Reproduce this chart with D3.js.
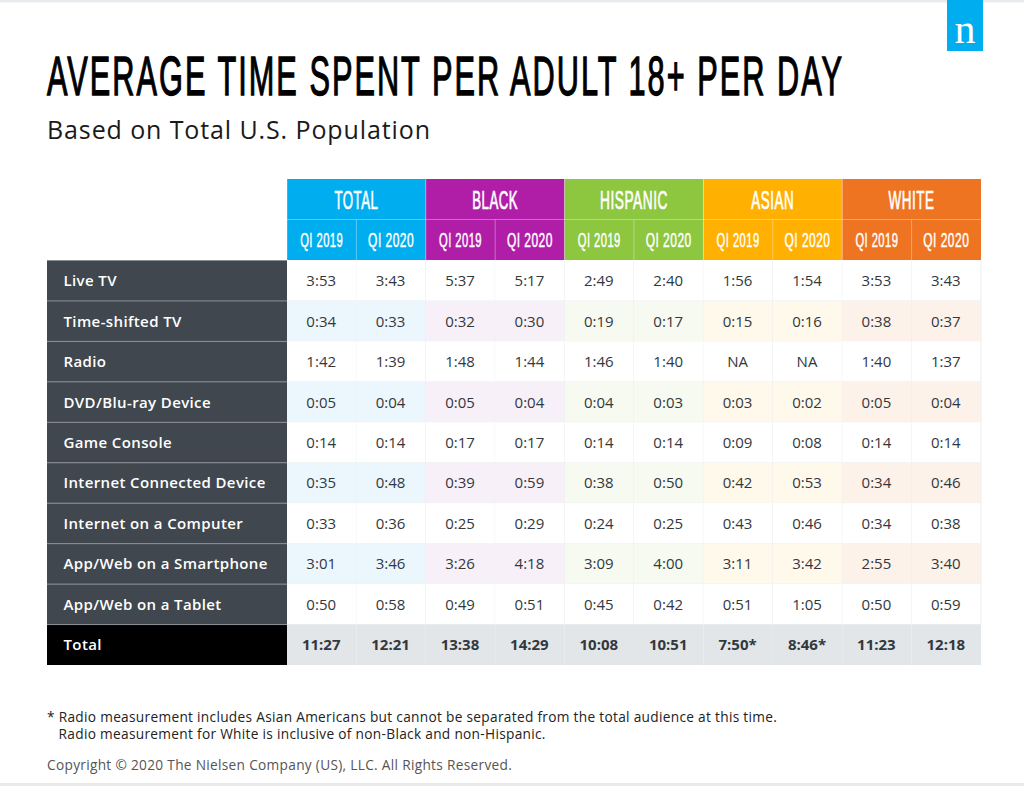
<!DOCTYPE html>
<html>
<head>
<meta charset="utf-8">
<script src="https://cdn.jsdelivr.net/npm/d3@7"></script>
<style>
  html, body { margin: 0; padding: 0; background: #fff; }
  svg { display: block; }
  text { font-family: "Open Sans", sans-serif; }
  .cond { font-family: "Liberation Sans Narrow", "Liberation Sans", sans-serif; }
</style>
</head>
<body>
<svg width="1024" height="786"></svg>
<script>
const groups = ['TOTAL', 'BLACK', 'HISPANIC', 'ASIAN', 'WHITE'];
const quarters = ['Q1 2019', 'Q1 2020'];
const categories = ['Live TV', 'Time-shifted TV', 'Radio', 'DVD/Blu-ray Device', 'Game Console',
  'Internet Connected Device', 'Internet on a Computer', 'App/Web on a Smartphone', 'App/Web on a Tablet', 'Total'];

const totalValues = [['3:53','3:43'],['0:34','0:33'],['1:42','1:39'],['0:05','0:04'],['0:14','0:14'],['0:35','0:48'],['0:33','0:36'],['3:01','3:46'],['0:50','0:58'],['11:27','12:21']];
const blackValues = [['5:37','5:17'],['0:32','0:30'],['1:48','1:44'],['0:05','0:04'],['0:17','0:17'],['0:39','0:59'],['0:25','0:29'],['3:26','4:18'],['0:49','0:51'],['13:38','14:29']];
const hispanicValues = [['2:49','2:40'],['0:19','0:17'],['1:46','1:40'],['0:04','0:03'],['0:14','0:14'],['0:38','0:50'],['0:24','0:25'],['3:09','4:00'],['0:45','0:42'],['10:08','10:51']];
const asianValues = [['1:56','1:54'],['0:15','0:16'],['NA','NA'],['0:03','0:02'],['0:09','0:08'],['0:42','0:53'],['0:43','0:46'],['3:11','3:42'],['0:51','1:05'],['7:50*','8:46*']];
const whiteValues = [['3:53','3:43'],['0:38','0:37'],['1:40','1:37'],['0:05','0:04'],['0:14','0:14'],['0:34','0:46'],['0:34','0:38'],['2:55','3:40'],['0:50','0:59'],['11:23','12:18']];
const allValues = [totalValues, blackValues, hispanicValues, asianValues, whiteValues];

const groupColors = ['#00aeef', '#b01ea8', '#8dc63f', '#ffb000', '#ef7421'];
const groupTints = ['#ecf7fd', '#f8f0f9', '#f6faf0', '#fff9ec', '#fdf2ea'];
const headerWidths = {TOTAL: 44, BLACK: 46, HISPANIC: 68, ASIAN: 43, WHITE: 46};

const footnotes = ['* Radio measurement includes Asian Americans but cannot be separated from the total audience at this time.',
  '   Radio measurement for White is inclusive of non-Black and non-Hispanic.'];

const svg = d3.select('svg');

// squeeze a condensed text to a wanted width, the letter spacing stays in
const fitText = (sel, x, y, width, anchor) => {
  sel.each(function(d) {
    const w = typeof width === 'function' ? width(d) : width;
    const px = typeof x === 'function' ? x(d) : x;
    const sx = w / this.getComputedTextLength();
    d3.select(this).attr('text-anchor', anchor)
      .attr('transform', `translate(${px},${y}) scale(${sx},1)`);
  });
};

// page strips top and bottom
svg.append('rect').attr('x', 0).attr('y', 0).attr('width', 1024).attr('height', 2.5).attr('fill', '#e8ebee');
svg.append('rect').attr('x', 0).attr('y', 783).attr('width', 1024).attr('height', 3).attr('fill', '#e8ebee');

// logo
svg.append('rect').attr('x', 947).attr('y', 0).attr('width', 36).attr('height', 51).attr('fill', '#00aeef');
svg.append('text').attr('x', 965).attr('y', 43).attr('text-anchor', 'middle')
  .style('font-family', '"Liberation Serif", serif').style('font-size', '42px').attr('fill', '#fff').text('n');

// title
svg.append('text').attr('class', 'cond')
  .style('font-size', '55px').style('letter-spacing', '3.6px').attr('fill', '#000')
  .attr('stroke', '#000').attr('stroke-width', 1.3)
  .text('AVERAGE TIME SPENT PER ADULT 18+ PER DAY')
  .call(fitText, 47, 95, 797, 'start');
svg.append('text').attr('x', 47).attr('y', 139).attr('textLength', 383).attr('lengthAdjust', 'spacing')
  .style('font-size', '25px').attr('fill', '#1a1a1a').text('Based on Total U.S. Population');

// scales
const x0 = d3.scaleBand().domain(groups).range([287, 981]);
const x1 = d3.scaleBand().domain(quarters).range([0, x0.bandwidth()]);
const y = d3.scaleBand().domain(categories).range([260.5, 665]);

// group headers
const gHead = svg.append('g').selectAll('g').data(groups).join('g')
  .attr('transform', d => `translate(${x0(d)},0)`);
gHead.append('rect').attr('y', 179).attr('width', x0.bandwidth()).attr('height', 81)
  .attr('fill', (d, i) => groupColors[i]);
gHead.append('line').attr('x1', 0).attr('x2', x0.bandwidth()).attr('y1', 219.5).attr('y2', 219.5)
  .attr('stroke', '#fff').attr('stroke-opacity', 0.35);
gHead.append('line').attr('x1', x1(quarters[1])).attr('x2', x1(quarters[1])).attr('y1', 219.5).attr('y2', 260)
  .attr('stroke', '#fff').attr('stroke-opacity', 0.35);
gHead.append('line').attr('x1', 0).attr('x2', 0).attr('y1', 179).attr('y2', 260)
  .attr('stroke', '#fff').attr('stroke-opacity', 0.35);
gHead.append('text').attr('class', 'cond')
  .style('font-size', '25px').style('letter-spacing', '1px').attr('fill', '#fff')
  .attr('stroke', '#fff').attr('stroke-width', 0.7)
  .text(d => d)
  .call(fitText, x0.bandwidth() / 2, 208.5, d => headerWidths[d], 'middle');
quarters.forEach(q => {
  gHead.append('text').attr('class', 'cond')
    .style('font-size', '20.5px').style('letter-spacing', '0.8px').attr('fill', '#fff')
    .attr('stroke', '#fff').attr('stroke-width', 0.5)
    .text(q.replace('Q1', 'QI'))
    .call(fitText, x1(q) + x1.bandwidth() / 2, 246.5, q === quarters[0] ? 43 : 46, 'middle');
});

// row labels
const rows = svg.append('g').selectAll('g').data(categories).join('g')
  .attr('transform', d => `translate(0,${y(d)})`);
rows.append('rect').attr('x', 47).attr('width', 240).attr('height', y.bandwidth())
  .attr('fill', d => d === 'Total' ? '#000' : '#40474e');
rows.append('line').attr('x1', 47).attr('x2', 287).attr('y1', 0).attr('y2', 0)
  .attr('stroke', '#8a9096').attr('stroke-width', 1);
rows.append('text').attr('x', 63.5).attr('y', y.bandwidth() / 2 + 5.5)
  .style('font-size', '15px').style('font-weight', 600).style('letter-spacing', '0.38px')
  .attr('fill', '#fff').text(d => d);

// value cells
categories.forEach((cat, r) => {
  const isTotal = cat === 'Total';
  groups.forEach((g, gi) => {
    quarters.forEach((q, qi) => {
      const cx = x0(g) + x1(q);
      const cell = svg.append('g').attr('transform', `translate(${cx},${y(cat)})`);
      cell.append('rect').attr('width', x1.bandwidth()).attr('height', y.bandwidth())
        .attr('fill', isTotal ? '#e2e6e9' : (r % 2 === 1 ? groupTints[gi] : '#fff'));
      if (!isTotal) {
        cell.append('line').attr('x1', x1.bandwidth()).attr('x2', x1.bandwidth()).attr('y1', 0).attr('y2', y.bandwidth())
          .attr('stroke', '#e9eef1');
        cell.append('line').attr('x1', 0).attr('x2', x1.bandwidth()).attr('y1', y.bandwidth()).attr('y2', y.bandwidth())
          .attr('stroke', '#eef1f3');
      }
      cell.append('text').attr('x', x1.bandwidth() / 2 - 0.5).attr('y', y.bandwidth() / 2 + 5.5)
        .attr('text-anchor', 'middle').style('font-size', '15px').style('font-weight', isTotal ? 700 : 400)
        .attr('fill', '#33383d').text(allValues[gi][r][qi]);
    });
  });
});

// footnotes
footnotes.forEach((t, i) => {
  svg.append('text').attr('x', 47).attr('y', 722 + i * 16.5)
    .style('white-space', 'pre').style('font-size', '13.7px').style('letter-spacing', '0.3px')
    .attr('fill', '#222').text(t);
});
svg.append('text').attr('x', 47).attr('y', 770).style('font-size', '13.7px').style('letter-spacing', '0.3px')
  .attr('fill', '#555').text('Copyright © 2020 The Nielsen Company (US), LLC. All Rights Reserved.');
</script>
</body>
</html>
